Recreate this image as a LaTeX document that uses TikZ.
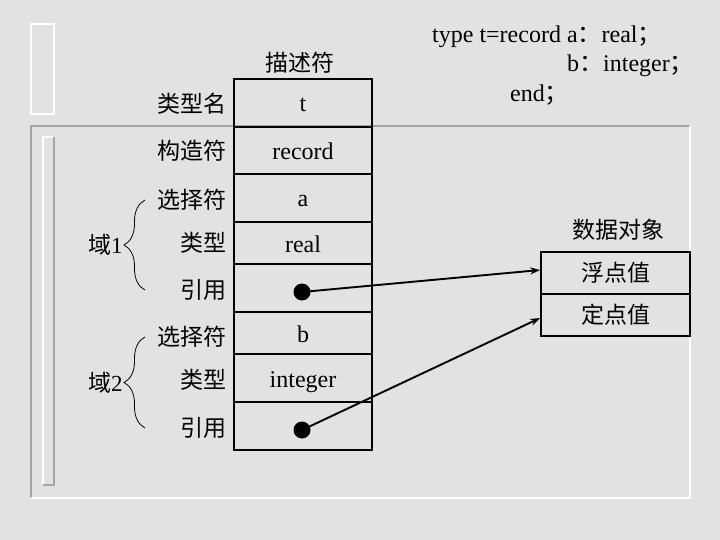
\documentclass[tikz,border=0pt]{standalone}
\usepackage{fontspec}
\setmainfont{Liberation Serif}
\newfontfamily\cjk{Noto Sans CJK SC}
\usetikzlibrary{arrows.meta, positioning, decorations.pathreplacing, calc}
\definecolor{marbre}{RGB}{226,226,226}
\definecolor{gris}{RGB}{165,165,165}

\begin{document}
\begin{tikzpicture}[x=1pt, y=-1pt, font=\fontsize{24}{28}\selectfont,
  cell/.style={draw, line width=1.6pt, minimum width=138, inner sep=0pt, text height=22pt, text depth=4pt},
  objet/.style={draw, line width=1.6pt, minimum width=149, minimum height=42, inner sep=0pt, font=\fontsize{23}{26}\selectfont\cjk},
  lab/.style={anchor=east, inner sep=0pt, font=\fontsize{23}{26}\selectfont\cjk},
  titre/.style={inner sep=0pt, font=\fontsize{23}{26}\selectfont\cjk},
  ptr/.style={circle, fill=black, inner sep=0pt, minimum size=17},
  fleche/.style={-{Stealth[length=10pt, width=7pt]}, line width=1.9pt},
  accolade/.style={decorate, decoration={brace, amplitude=21pt, aspect=0.5}, line width=0.8pt}]

  % fond
  \useasboundingbox (0,0) rectangle (720,540);
  \fill[marbre] (0,0) rectangle (720,540);
  \draw[gris, line width=1.5pt] (31,498) -- (31,126) -- (690,126);
  \draw[white, line width=1.5pt] (690,126) -- (690,498) -- (31,498);
  \draw[white, line width=1.2pt] (31,24) rectangle (54,114);
  \draw[white, line width=1.2pt] (43,485) -- (43,137) -- (54,137);
  \draw[gris, line width=1.2pt] (54,137) -- (54,485) -- (43,485);

  % declaration
  \node[anchor=west, inner sep=0pt] (l1) at (432,37) {type t=record a{\cjk ：}real{\cjk ；}};
  \node[anchor=east, inner sep=0pt] (l2) at (694,66) {b{\cjk ：}integer{\cjk ；}};
  \node[anchor=west, inner sep=0pt] (l3) at (510,95) {end{\cjk ；}};

  % descripteur
  \node[titre] (desc) at (300,63) {描述符};
  \node[cell, minimum height=48] (nom) at (303,103) {t};
  \node[cell, minimum height=47] (cons) at (303,150.5) {record};
  \node[cell, minimum height=48] (sela) at (303,198) {a};
  \node[cell, minimum height=42] (typa) at (303,243) {real};
  \node[cell, minimum height=48] (refa) at (303,288) {};
  \node[cell, minimum height=42] (selb) at (303,333) {b};
  \node[cell, minimum height=48] (typb) at (303,378) {integer};
  \node[cell, minimum height=48] (refb) at (303,426) {};
  \node[ptr] (pa) at (302,292) {};
  \node[ptr] (pb) at (302,430) {};

  % etiquettes
  \node[lab] (lnom) at (227,104) {类型名};
  \node[lab] (lcons) at (227,151) {构造符};
  \node[lab] (lsela) at (227,200) {选择符};
  \node[lab] (ltypa) at (227,243) {类型};
  \node[lab] (lrefa) at (227,290) {引用};
  \node[lab] (lselb) at (227,337) {选择符};
  \node[lab] (ltypb) at (227,380) {类型};
  \node[lab] (lrefb) at (227,428) {引用};

  % accolades
  \draw[accolade] ([xshift=-82]lrefa.east |- lrefa) -- ([xshift=-82]lsela.east |- lsela)
    node[midway, left=22pt, inner sep=0pt, font=\fontsize{23}{26}\selectfont] (dom1) {{\cjk 域}1};
  \draw[accolade] ([xshift=-82]lrefb.east |- lrefb) -- ([xshift=-82]lselb.east |- lselb)
    node[midway, left=22pt, inner sep=0pt, font=\fontsize{23}{26}\selectfont] (dom2) {{\cjk 域}2};

  % objet de donnees
  \node[titre] (obj) at (618,230) {数据对象};
  \node[objet] (flot) at (615.5,273) {浮点值};
  \node[objet] (fixe) at (615.5,315) {定点值};

  \draw[fleche] (pa.center) -- ([yshift=3]flot.west);
  \draw[fleche] (pb.center) -- ([yshift=-3]fixe.west);
\end{tikzpicture}
\end{document}
